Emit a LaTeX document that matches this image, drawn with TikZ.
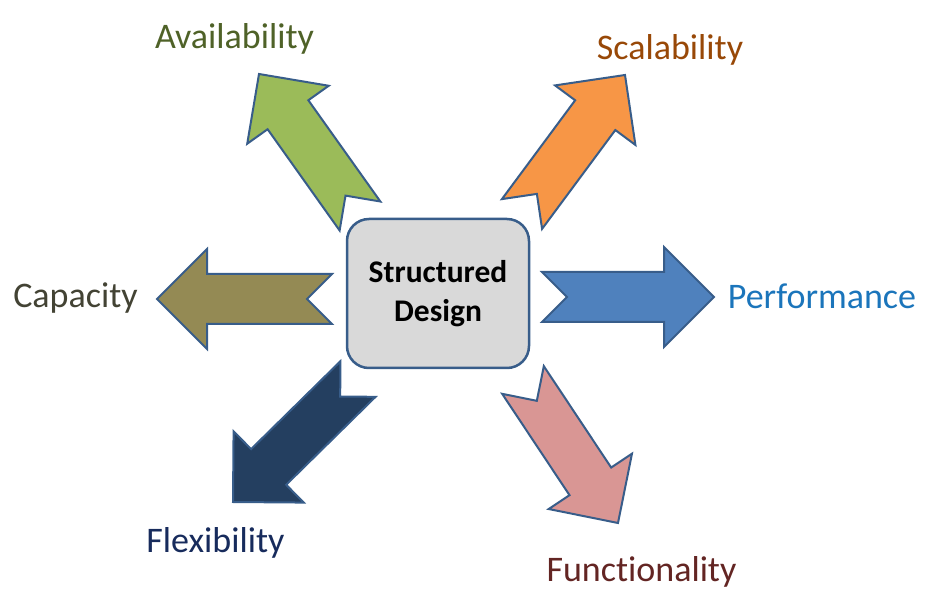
\documentclass[tikz,border=0pt]{standalone}
\usepackage{fontspec}
\setmainfont[Ligatures=NoCommon]{Carlito}
\usetikzlibrary{calc}
\definecolor{edgeblue}{HTML}{385D8A}
\definecolor{boxfill}{HTML}{D9D9D9}
\definecolor{avfill}{HTML}{9BBB59}
\definecolor{avtext}{HTML}{4F6228}
\definecolor{scfill}{HTML}{F79646}
\definecolor{sctext}{HTML}{984807}
\definecolor{pefill}{HTML}{4F81BD}
\definecolor{petext}{HTML}{1B75BB}
\definecolor{cafill}{HTML}{948A54}
\definecolor{catext}{HTML}{434334}
\definecolor{flfill}{HTML}{243F60}
\definecolor{fltext}{HTML}{172B5C}
\definecolor{fufill}{HTML}{D99694}
\definecolor{futext}{HTML}{632523}
\tikzset{
  arrowshape/.style={draw=edgeblue, line width=2pt, line join=miter},
  corebox/.style={draw=edgeblue, line width=2.5pt, fill=boxfill, rounded corners=22pt,
    minimum width=182pt, minimum height=149pt, inner sep=0pt, align=center,
    font=\bfseries\fontsize{31.5}{39}\selectfont, text=black},
  lbl/.style={anchor=base, inner sep=0pt, font=\fontsize{36}{42}\selectfont}
}
% #1 tail coordinate name, #2 tip coordinate name, #3 fill colour
\newcommand\sdArrow[3]{%
  \coordinate (#1h) at ($(#2)!50pt!(#1)$);
  \draw[arrowshape, fill=#3]
    ($(#1)!25pt!90:(#2)$) -- ($(#1)!25pt!(#2)$) -- ($(#1)!25pt!-90:(#2)$)
    -- ($(#1h)!25pt!-90:(#2)$) -- ($(#1h)!50pt!-90:(#2)$) -- (#2)
    -- ($(#1h)!50pt!90:(#2)$) -- ($(#1h)!25pt!90:(#2)$) -- cycle;}
\begin{document}
\begin{tikzpicture}[x=1pt, y=-1pt]
\useasboundingbox (0,0) rectangle (932,612);
% central box
\node[corebox] (core) at (438,293.5) {Structured\\Design};
% arrow end points
\coordinate (avT) at (360,216); \coordinate (avP) at (259,74);
\coordinate (scT) at (522,214); \coordinate (scP) at (625,75);
\coordinate (peT) at (542,297); \coordinate (peP) at (714,297);
\coordinate (caT) at (332,299); \coordinate (caP) at (157,299);
\coordinate (flT) at (358,379); \coordinate (flP) at (233,502);
\coordinate (fuT) at (523,380); \coordinate (fuP) at (618,523);
\sdArrow{avT}{avP}{avfill}
\sdArrow{scT}{scP}{scfill}
\sdArrow{peT}{peP}{pefill}
\sdArrow{caT}{caP}{cafill}
\sdArrow{flT}{flP}{flfill}
\sdArrow{fuT}{fuP}{fufill}
% labels
\node[lbl, text=avtext] (avl) at (234.5,49) {Availability};
\node[lbl, text=sctext] (scl) at (670,60) {Scalability};
\node[lbl, text=petext] (pel) at (822,309) {Performance};
\node[lbl, text=catext] (cal) at (75.5,308) {Capacity};
\node[lbl, text=fltext] (fll) at (215.5,552) {Flexibility};
\node[lbl, text=futext] (ful) at (641.5,581) {Functionality};
\end{tikzpicture}
\end{document}
